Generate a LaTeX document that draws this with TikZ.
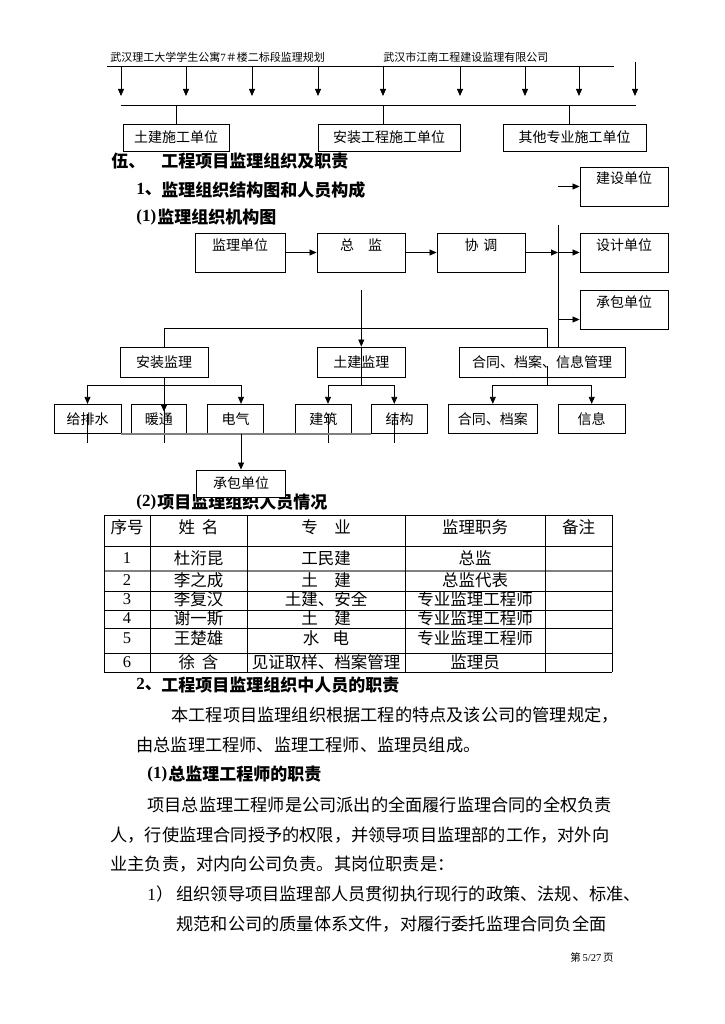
\documentclass[tikz,border=0pt]{standalone}
\usepackage{fontspec}
\setmainfont{Liberation Serif}
\newfontfamily\cjk{Noto Sans CJK SC}
\usetikzlibrary{arrows.meta}

\begin{document}
\begin{tikzpicture}[x=1pt,y=-1pt,line width=0.8pt,
  arr/.style={-{Triangle[length=7pt,width=6pt]}},
  unitbox/.style={draw,line width=0.9pt,inner sep=0pt,fill=white,font=\cjk\fontsize{14}{14}\selectfont},
  topbox/.style={unitbox,minimum width=88,text height=17pt,text depth=22pt},
  rowbox/.style={unitbox,minimum height=29},
  hdr/.style={inner sep=0pt,anchor=west,font=\cjk\fontsize{11}{11}\selectfont},
  head/.style={inner sep=0pt,anchor=west,font=\cjk\bfseries\fontsize{17}{17}\selectfont},
  body/.style={inner sep=0pt,anchor=west,font=\cjk\fontsize{17.2}{17.2}\selectfont},
  cell/.style={inner sep=0pt,font=\cjk\fontsize{16.5}{16.5}\selectfont},
  numcell/.style={cell,font=\rmfamily\fontsize{16.5}{16.5}\selectfont}]
  \fill[white] (0,0) rectangle (724,1024);
  \useasboundingbox (0,0) rectangle (724,1024);

  % page header and the units above
  \node[hdr] (hdrL) at (110,57) {武汉理工大学学生公寓{\rmfamily 7}＃楼二标段监理规划};
  \node[hdr] (hdrR) at (383,57) {武汉市江南工程建设监理有限公司};
  \coordinate (hlA) at (107,66);
  \coordinate (hlB) at (614,66);
  \coordinate (hlC) at (635,62);
  \draw (hlA) -- (hlB);
  \foreach \x in {121,186,252,318,383,460,525,579}
    \draw[arr] (\x,0 |- hlA) -- ++(0,30);
  \draw[arr] (hlC) -- ++(0,34);
  \coordinate (blA) at (121,105);
  \coordinate (blB) at (636,105);
  \draw (blA) -- (blB);
  \node[unitbox,minimum width=106,minimum height=27] (tjdw) at (176,137.5) {土建施工单位};
  \node[unitbox,minimum width=142,minimum height=27] (azdw) at (389,137.5) {安装工程施工单位};
  \node[unitbox,minimum width=143,minimum height=27] (qtdw) at (574.5,137.5) {其他专业施工单位};
  \draw (tjdw.north) -- (tjdw.north |- blA);
  \draw ([xshift=-6pt]azdw.north) -- ++(0,-19);
  \draw ([xshift=-5.5pt]qtdw.north) -- ++(0,-19);

  % headings
  \node[head] (h5a) at (111,161) {伍、};
  \node[head] (h5b) at (161,161) {工程项目监理组织及职责};
  \node[head] (h1a) at (136,190) {{\rmfamily 1}、};
  \node[head] (h1b) at (161,190) {监理组织结构图和人员构成};
  \node[head] (h2a) at (136,217) {\rmfamily (1)};
  \node[head] (h2b) at (157,217) {监理组织机构图};

  % organisation chart: top row
  \node[topbox,minimum width=90] (jldw) at (240,252.5) {监理单位};
  \node[topbox] (zj) at (361,252.5) {总\hspace{1em}监};
  \node[topbox] (xt) at (481,252.5) {协\hspace{0.35em}调};
  \node[topbox] (jsdw) at (624,186.5) {建设单位};
  \node[topbox] (sjdw) at (624,252.5) {设计单位};
  \node[topbox] (cbdw) at (624,309.5) {承包单位};
  \coordinate (spine) at (558,225);
  \coordinate (jsin) at (558,186.5);
  \coordinate (cbin) at (558,319.5);
  \draw[arr] (jldw.east) -- (zj.west);
  \draw[arr] (zj.east) -- (xt.west);
  \draw[arr] (xt.east) -- (xt.east -| spine);
  \draw[arr] (xt.east -| spine) -- (sjdw.west);
  \draw[arr] (jsin) -- (jsdw.west);
  \draw[arr] (cbin) -- (cbin -| cbdw.west);

  % second row
  \node[unitbox,minimum width=88,minimum height=30] (azjl) at (164,362) {安装监理};
  \node[unitbox,minimum width=88,minimum height=30] (tjjl) at (361.3,362) {土建监理};
  \node[unitbox,minimum width=166,minimum height=30] (htgl) at (542,362) {合同、档案、信息管理};
  \draw (spine) -- (spine |- htgl.north);
  \coordinate (zjout) at (361.3,290);
  \draw[arr] (zjout) -- (tjjl.north);
  \draw (azjl.north) -- ++(0,-18) -| ([xshift=5.7pt]htgl.north);

  % third row
  \foreach \n/\x/\w/\t in {gps/87.5/67/给排水, nt/158.8/55.7/暖通, dq/235.5/55.6/电气,
      jz/323.3/56.7/建筑, jg/399.7/56/结构, hta/492.8/89/合同、档案, xx/591.7/66.7/信息}
    \node[rowbox,minimum width=\w] (\n) at (\x,418.8) {\t};
  \coordinate (azb) at (164,385.5);
  \coordinate (tjb) at (361.3,385.5);
  \coordinate (htb) at (547.7,385.5);
  \draw (azjl.south) -- ++(0,66);
  \draw[arr] (azb) -- ++(0,26.2);
  \draw[arr] (azb) -| (gps.north);
  \draw[arr] (azb) -| ([xshift=5.5pt]dq.north);
  \draw (tjjl.north) -- (tjb);
  \draw[arr] (tjb) -| ([xshift=4.7pt]jz.north);
  \draw[arr] (tjb) -| ([xshift=-5.4pt]jg.north);
  \draw (htb) -- ++(0,-19.5);
  \draw[arr] (htb) -| (hta.north);
  \draw[arr] (htb) -| (xx.north);
  \draw (gps.south) ++(0,-20) -- ++(0,29.5);
  \draw ([xshift=4.7pt]jz.south) ++(0,-20) -- ++(0,29.5);
  \draw ([xshift=-5.4pt]jg.south) ++(0,-20) -- ++(0,29.5);
  \draw[gray,line width=1.6pt] (gps.south east) -- (jg.south west);

  % staff heading, partly under the last box
  \node[head] (h3a) at (136,502) {\rmfamily (2)};
  \node[head] (h3b) at (157,502) {项目监理组织人员情况};
  \node[unitbox,minimum width=89,minimum height=27] (cbdw2) at (241,483.5) {承包单位};
  \draw[arr] ([xshift=5.5pt]dq.south) -- (cbdw2.north);

  % staff table
  \foreach \y in {515,546,591,610,628,653,672}
    \draw (104,\y) -- (612,\y);
  \draw[gray,line width=1.8pt] (104,571) -- (612,571);
  \foreach \x in {104,150,247,405,545,612}
    \draw (\x,515) -- (\x,672);
  \node[cell] (th1) at (127,527) {序号};
  \node[cell] (th2) at (198.5,527) {姓\hspace{0.4em}名};
  \node[cell] (th3) at (326,527) {专\hspace{1em}业};
  \node[cell] (th4) at (475,527) {监理职务};
  \node[cell] (th5) at (578.5,527) {备注};
  \foreach \r/\y/\a/\b/\c in {1/558/杜洐昆/工民建/总监,
      2/580/李之成/{土\hspace{1em}建}/总监代表,
      3/599/李复汉/土建、安全/专业监理工程师,
      4/618/谢一斯/{土\hspace{1em}建}/专业监理工程师,
      5/638/王楚雄/{水\hspace{0.8em}电}/专业监理工程师,
      6/662/{徐\hspace{0.4em}含}/见证取样、档案管理/监理员} {
    \node[numcell] (no\r) at (127,\y) {\r};
    \node[cell] (nm\r) at (198.5,\y) {\a};
    \node[cell] (zy\r) at (326,\y) {\b};
    \node[cell] (zw\r) at (475,\y) {\c};
  }

  % duties text
  \node[head] (h4a) at (136,685) {{\rmfamily 2}、};
  \node[head] (h4b) at (161,685) {工程项目监理组织中人员的职责};
  \node[head] (h6a) at (147,774) {\rmfamily (1)};
  \node[head] (h6b) at (168,774) {总监理工程师的职责};
  \node[body] (p7a) at (147,894) {{\rmfamily 1}）};
  \foreach \n/\x/\y/\t in {p1/171/715/本工程项目监理组织根据工程的特点及该公司的管理规定，,
      p2/136/745/由总监理工程师、监理工程师、监理员组成。,
      p4/147/805/项目总监理工程师是公司派出的全面履行监理合同的全权负责,
      p5/110/835/人，行使监理合同授予的权限，并领导项目监理部的工作，对外向,
      p6/110/864/业主负责，对内向公司负责。其岗位职责是：,
      p7/176/894/组织领导项目监理部人员贯彻执行现行的政策、法规、标准、,
      p8/176/924/规范和公司的质量体系文件，对履行委托监理合同负全面}
    \node[body] (\n) at (\x,\y) {\t};
  \node[inner sep=0pt,font=\fontsize{10.5}{10.5}\selectfont] (pg) at (592,957) {{\cjk 第}\,5/27\,{\cjk 页}};
\end{tikzpicture}
\end{document}
